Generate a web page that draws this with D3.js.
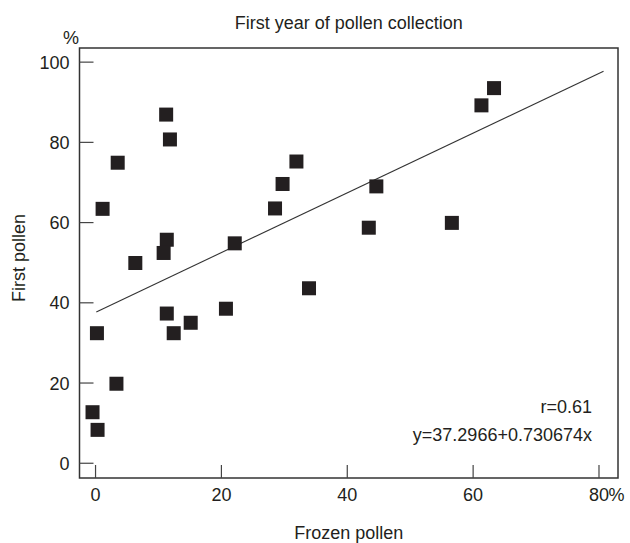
<!DOCTYPE html>
<html>
<head>
<meta charset="utf-8">
<script src="https://cdn.jsdelivr.net/npm/d3@7"></script>
<style>
  html, body { margin: 0; padding: 0; background: #fff; }
  svg text { font-family: "Liberation Sans", Arial, sans-serif; fill: #231f20; }
</style>
</head>
<body>
<svg id="chart" width="630" height="543"></svg>
<script>
"use strict";

// values
var frozen = [11.3, 11.9, 3.6, 1.2, 11.4, 10.9, 6.4, 22.2, 11.4, 12.5, 15.2, 20.8, 0.3,
              3.4, -0.4, 0.4, 32.0, 29.8, 28.6, 44.7, 43.5, 56.7, 34.0, 61.4, 63.4];
var first  = [86.8, 80.6, 74.8, 63.3, 55.6, 52.3, 49.8, 54.7, 37.2, 32.3, 34.9, 38.4, 32.3,
              19.7, 12.6, 8.2, 75.1, 69.5, 63.4, 68.9, 58.6, 59.8, 43.5, 89.1, 93.4];
var fitX = [0.2, 80.8];
var fitY = [37.6, 97.6];
var xTicks = [0, 20, 40, 60, 80];
var yTicks = [0, 20, 40, 60, 80, 100];
var statLines = ["r=0.61", "y=37.2966+0.730674x"];

var ink = "#231f20";
var margin = {left: 79.5, top: 48, right: 12, bottom: 65};
var width = 630 - margin.left - margin.right;
var height = 543 - margin.top - margin.bottom;

var svg = d3.select("#chart");
var g = svg.append("g").attr("transform", "translate(" + margin.left + "," + margin.top + ")");

var x = d3.scaleLinear().domain([-2.47, 83.1]).range([0, width]);
var y = d3.scaleLinear().domain([-3.8, 103.4]).range([height, 0]);

// frame
g.append("rect")
	.attr("width", width)
	.attr("height", height)
	.attr("fill", "none")
	.attr("stroke", "#333")
	.attr("stroke-width", 1.5);

// inward ticks
var xAxis = g.append("g")
	.attr("transform", "translate(0," + height + ")")
	.call(d3.axisBottom(x).tickValues(xTicks).tickSize(-13).tickPadding(24).tickFormat(d3.format("d")));
var yAxis = g.append("g")
	.call(d3.axisLeft(y).tickValues(yTicks).tickSize(-14).tickPadding(24).tickFormat(d3.format("d")));

[xAxis, yAxis].forEach(function(a) {
	a.select(".domain").remove();
	a.selectAll(".tick line").attr("stroke", "#444").attr("stroke-width", 1.2);
	a.selectAll(".tick text").style("font-size", "18px").attr("fill", ink);
});
xAxis.selectAll(".tick text").attr("y", 10).attr("dy", "0.71em");
yAxis.selectAll(".tick text").attr("x", -10).attr("dy", "0.36em");

// "%" after the last x tick label, "%" above y axis
var lastX = xAxis.selectAll(".tick text").filter(function(d) { return d === 80; });
var w80 = lastX.node().getComputedTextLength();
xAxis.append("text")
	.attr("x", x(80) + w80 / 2)
	.attr("y", 10)
	.attr("dy", "0.71em")
	.attr("text-anchor", "start")
	.style("font-size", "18px")
	.attr("fill", ink)
	.text("%");

svg.append("text")
	.attr("x", 71)
	.attr("y", 44)
	.attr("text-anchor", "middle")
	.style("font-size", "18px")
	.text("%");

// regression line
g.append("line")
	.attr("x1", x(fitX[0])).attr("y1", y(fitY[0]))
	.attr("x2", x(fitX[1])).attr("y2", y(fitY[1]))
	.attr("stroke", "#333")
	.attr("stroke-width", 1.1);

// points
var s = 14;
g.selectAll(".pt")
	.data(frozen)
	.enter().append("rect")
	.attr("class", "pt")
	.attr("x", function(d) { return x(d) - s / 2; })
	.attr("y", function(d, i) { return y(first[i]) - s / 2; })
	.attr("width", s)
	.attr("height", s)
	.attr("fill", ink);

// stats
g.selectAll(".stat")
	.data(statLines)
	.enter().append("text")
	.attr("class", "stat")
	.attr("x", 592 - margin.left)
	.attr("y", function(d, i) { return 413 - margin.top + i * 28; })
	.attr("text-anchor", "end")
	.style("font-size", "18px")
	.text(function(d) { return d; });

// titles
svg.append("text")
	.attr("x", margin.left + width / 2)
	.attr("y", 29)
	.attr("text-anchor", "middle")
	.style("font-size", "18px")
	.text("First year of pollen collection");

svg.append("text")
	.attr("x", margin.left + width / 2)
	.attr("y", 539)
	.attr("text-anchor", "middle")
	.style("font-size", "18px")
	.text("Frozen pollen");

svg.append("text")
	.attr("transform", "translate(25," + 258 + ") rotate(-90)")
	.attr("text-anchor", "middle")
	.style("font-size", "18px")
	.text("First pollen");
</script>
</body>
</html>
